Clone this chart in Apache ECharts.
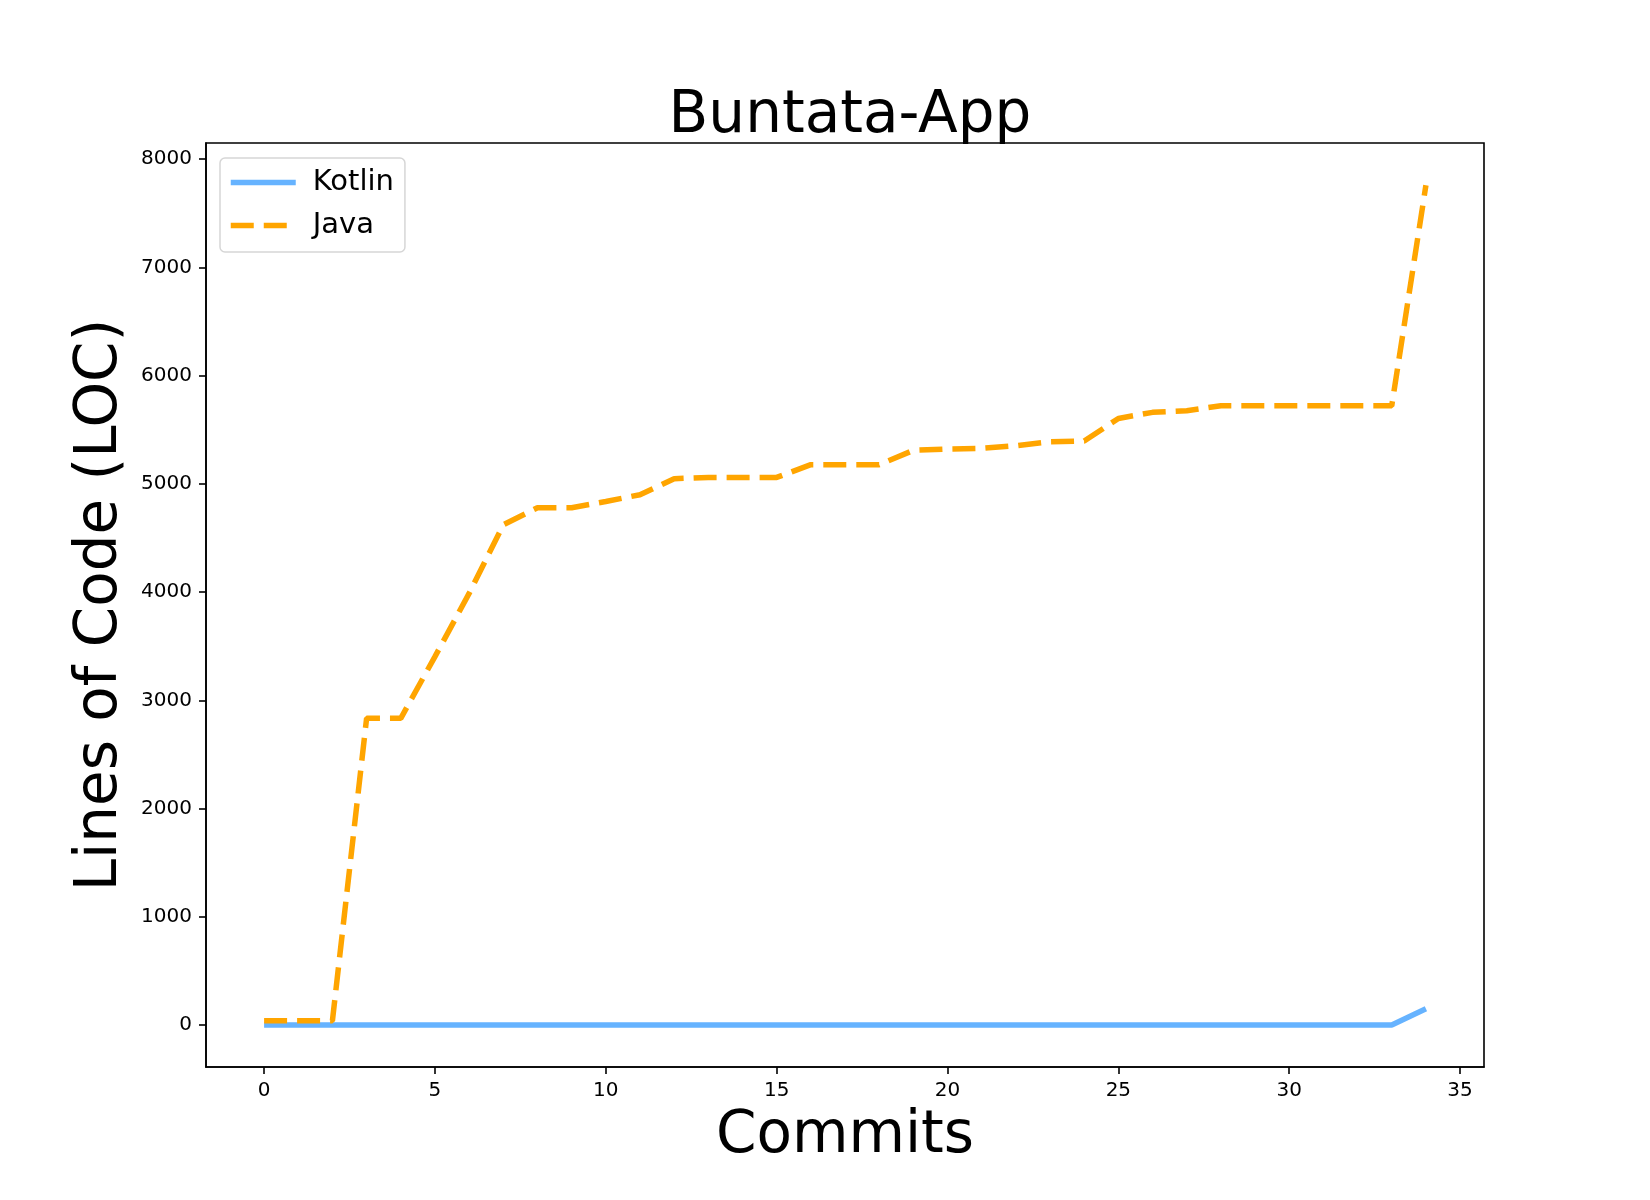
<!DOCTYPE html>
<html>
<head>
<meta charset="utf-8">
<script src="https://cdn.jsdelivr.net/npm/echarts@6/dist/echarts.min.js"></script>
<style>
  html, body { margin: 0; padding: 0; background: #fff; }
  #chart { width: 1650px; height: 1200px; }
</style>
</head>
<body>
<div id="chart"></div>
<script>
  // commit index on x, lines of code on y
  const commits = [0, 1, 2, 3, 4, 5, 6, 7, 8, 9, 10, 11, 12, 13, 14, 15, 16, 17,
    18, 19, 20, 21, 22, 23, 24, 25, 26, 27, 28, 29, 30, 31, 32, 33, 34]
  const kotlin = [0, 0, 0, 0, 0, 0, 0, 0, 0, 0, 0, 0, 0, 0, 0, 0, 0, 0,
    0, 0, 0, 0, 0, 0, 0, 0, 0, 0, 0, 0, 0, 0, 0, 0, 150]
  const java = [40, 40, 40, 2834, 2834, 3404, 3988, 4622, 4780, 4780, 4838, 4900,
    5048, 5060, 5060, 5060, 5178, 5178, 5178, 5310, 5322, 5328, 5353, 5390, 5396,
    5605, 5661, 5676, 5722, 5722, 5722, 5722, 5722, 5722, 7760]
  const xTicks = [0, 5, 10, 15, 20, 25, 30, 35]
  const yTicks = [0, 1000, 2000, 3000, 4000, 5000, 6000, 7000, 8000]

  const font = "DejaVu Sans"

  function pairs(values) {
    return commits.map((c, i) => [c, values[i]])
  }

  let myChart = echarts.init(document.getElementById("chart"), null, {renderer: "canvas"})

  myChart.setOption({
    animation: false,
    backgroundColor: "#fff",
    title: {
      text: "Buntata-App",
      left: 845,
      top: 83,
      textAlign: "center",
      textStyle: {
        fontFamily: font,
        fontSize: 58,
        fontWeight: "normal",
        color: "#000"
      }
    },
    legend: {
      orient: "vertical",
      left: 220,
      top: 158,
      padding: [10, 11, 12, 8],
      itemGap: 14,
      itemWidth: 65,
      itemHeight: 14,
      backgroundColor: "#fff",
      borderColor: "#d6d6d6",
      borderWidth: 1.5,
      borderRadius: 5,
      itemStyle: {opacity: 0},
      lineStyle: {width: 5.5, opacity: 1},
      textStyle: {
        fontFamily: font,
        fontSize: 29,
        color: "#000",
        padding: [0, 0, 0, 12]
      },
      data: ["Kotlin", "Java"]
    },
    grid: {
      left: 206,
      top: 143,
      width: 1278,
      height: 924,
      show: true,
      borderColor: "#000",
      borderWidth: 1.6
    },
    xAxis: {
      type: "value",
      min: -1.7,
      max: 35.7,
      name: "Commits",
      nameLocation: "middle",
      nameGap: 41,
      nameTextStyle: {
        fontFamily: font,
        fontSize: 58,
        color: "#000"
      },
      splitLine: {show: false},
      axisLine: {show: true, onZero: false, lineStyle: {color: "#000", width: 1.6}},
      axisTick: {show: true, length: 7, lineStyle: {color: "#000", width: 1.6}, customValues: xTicks},
      axisLabel: {
        fontFamily: font,
        fontSize: 20,
        color: "#000",
        margin: 14,
        customValues: xTicks
      }
    },
    yAxis: {
      type: "value",
      min: -388,
      max: 8150,
      name: "Lines of Code (LOC)",
      nameLocation: "middle",
      nameRotate: 90,
      nameGap: 73,
      nameTextStyle: {
        fontFamily: font,
        fontSize: 58,
        color: "#000"
      },
      splitLine: {show: false},
      axisLine: {show: true, onZero: false, lineStyle: {color: "#000", width: 1.6}},
      axisTick: {show: true, length: 7, lineStyle: {color: "#000", width: 1.6}, customValues: yTicks},
      axisLabel: {
        fontFamily: font,
        fontSize: 20,
        color: "#000",
        margin: 14,
        customValues: yTicks,
        formatter: function (v) {
          return String(v)
        }
      }
    },
    series: [
      {
        name: "Kotlin",
        type: "line",
        symbol: "none",
        color: "#66b3ff",
        lineStyle: {color: "#66b3ff", width: 5.5},
        data: pairs(kotlin)
      },
      {
        name: "Java",
        type: "line",
        symbol: "none",
        color: "#ffa500",
        lineStyle: {color: "#ffa500", width: 5.5, type: [23, 10]},
        data: pairs(java)
      }
    ]
  })
</script>
</body>
</html>
